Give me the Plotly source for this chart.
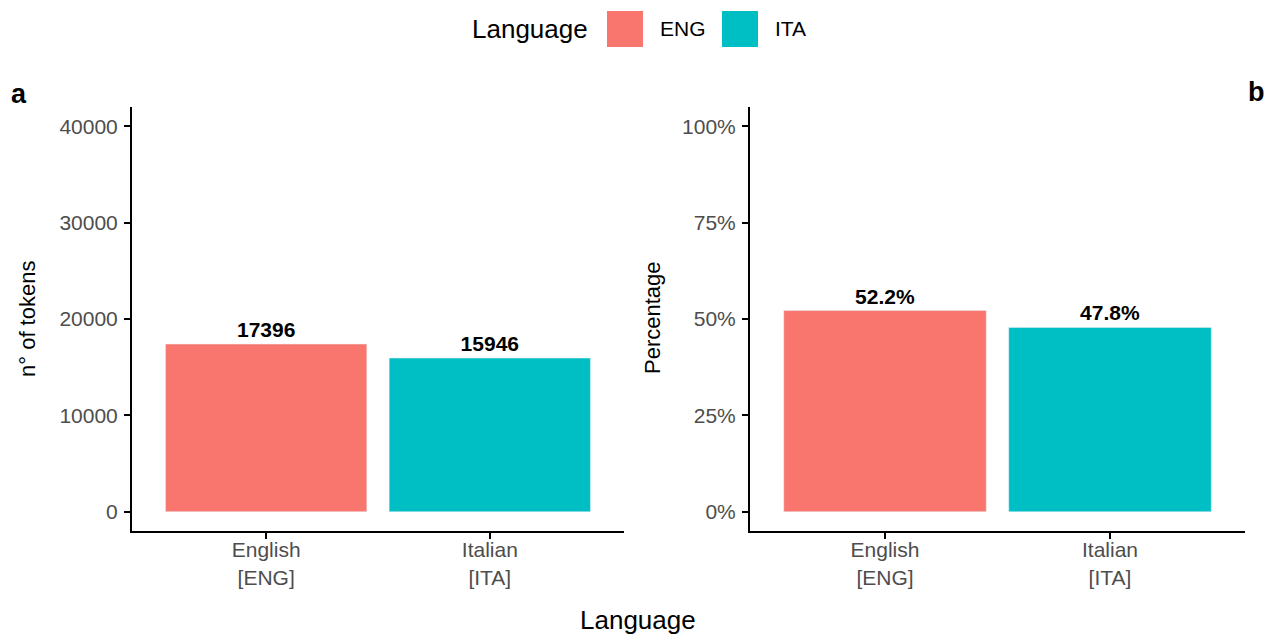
import plotly.graph_objects as go

# Token counts per language
categories = ["English<br>[ENG]", "Italian<br>[ITA]"]
codes = ["ENG", "ITA"]
tokens = [17396, 15946]
share_pct = [52.2, 47.8]
colors = ["#F8766D", "#00BFC4"]

count_ticks = [0, 10000, 20000, 30000, 40000]
pct_ticks = [0, 0.25, 0.5, 0.75, 1.0]

W, H = 1276, 639
FONT = "Liberation Sans, Arial, sans-serif"
TICK_GREY = "#4D4D4D"


def px_x(x):
    return x / W


def px_y(y):
    return 1 - y / H


fig = go.Figure()

fig.add_trace(go.Bar(
    x=categories, y=tokens, marker_color=colors, width=0.9,
    text=[str(v) for v in tokens], textposition="outside",
    textfont=dict(family=FONT, size=21, color="black", weight="bold"),
    cliponaxis=False, showlegend=False, xaxis="x", yaxis="y",
))

fig.add_trace(go.Bar(
    x=categories, y=[p / 100 for p in share_pct], marker_color=colors, width=0.9,
    text=[f"{p:.1f}%" for p in share_pct], textposition="outside",
    textfont=dict(family=FONT, size=21, color="black", weight="bold"),
    cliponaxis=False, showlegend=False, xaxis="x2", yaxis="y2",
))

axis_common = dict(
    showline=True, linecolor="black", linewidth=2,
    ticks="outside", ticklen=6, tickwidth=2, tickcolor="black",
    showgrid=False, zeroline=False,
    tickfont=dict(family=FONT, size=21, color=TICK_GREY),
)

fig.update_layout(
    width=W, height=H,
    margin=dict(l=0, r=0, t=0, b=0),
    paper_bgcolor="white", plot_bgcolor="white",
    bargap=0.1,
    xaxis=dict(domain=[px_x(132), px_x(624)], range=[-0.6, 1.6], anchor="y",
               type="category", ticklabelstandoff=-7, **axis_common),
    yaxis=dict(domain=[px_y(531), px_y(107)], range=[-2000, 42000], anchor="x",
               tickvals=count_ticks, tickformat="d", ticklabelstandoff=2,
               **axis_common),
    xaxis2=dict(domain=[px_x(750), px_x(1245)], range=[-0.6, 1.6], anchor="y2",
                type="category", ticklabelstandoff=-7, **axis_common),
    yaxis2=dict(domain=[px_y(531), px_y(107)], range=[-0.05, 1.05], anchor="x2",
                tickvals=pct_ticks, tickformat=".0%", ticklabelstandoff=2,
                **axis_common),
)

paper = dict(xref="paper", yref="paper", showarrow=False, yanchor="middle")

annotations = [
    dict(text="Language", x=px_x(638), y=px_y(620), xanchor="center",
         font=dict(family=FONT, size=26, color="black"), **paper),
    dict(text="n° of tokens", x=px_x(27), y=px_y(319), textangle=-90,
         xanchor="center",
         font=dict(family=FONT, size=22, color="black"), **paper),
    dict(text="Percentage", x=px_x(652), y=px_y(318), textangle=-90,
         xanchor="center",
         font=dict(family=FONT, size=22, color="black"), **paper),
    dict(text="<b>a</b>", x=px_x(19), y=px_y(94), xanchor="center",
         font=dict(family=FONT, size=27, color="black"), **paper),
    dict(text="<b>b</b>", x=px_x(1256), y=px_y(92), xanchor="center",
         font=dict(family=FONT, size=27, color="black"), **paper),
    # legend title
    dict(text="Language", x=px_x(590), y=px_y(29), xanchor="right",
         font=dict(family=FONT, size=26, color="black"), **paper),
]

# Legend keys drawn as large squares with labels
shapes = []
key_left = [607, 722]
for code, col, kx in zip(codes, colors, key_left):
    shapes.append(dict(type="rect", xref="paper", yref="paper",
                       x0=px_x(kx), x1=px_x(kx + 36), y0=px_y(47), y1=px_y(11),
                       fillcolor=col, line=dict(width=0)))
    annotations.append(dict(text=code, x=px_x(kx + 51), y=px_y(29), xanchor="left",
                            font=dict(family=FONT, size=21, color="black"), **paper))

fig.update_layout(annotations=annotations, shapes=shapes)

fig.write_html("out.html")
